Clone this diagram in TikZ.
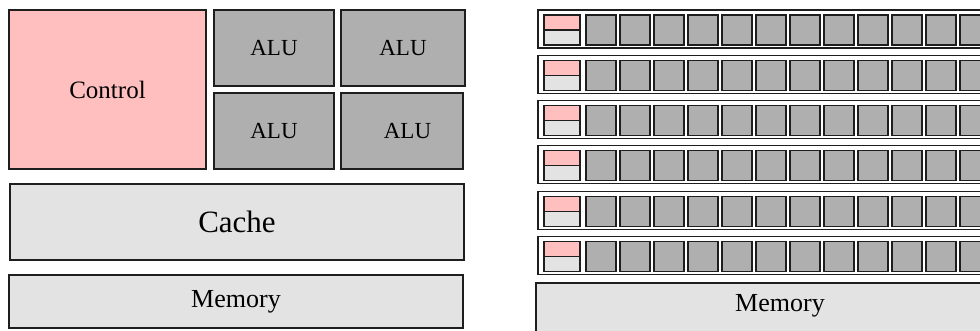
\documentclass[tikz,border=0pt]{standalone}
\usepackage{fontspec}
\setmainfont{Liberation Serif}
\definecolor{ctlpink}{HTML}{FFBFBF}
\definecolor{alugray}{HTML}{AFAFAF}
\definecolor{memgray}{HTML}{E3E3E3}
\definecolor{edge}{HTML}{1E1E1E}
\tikzset{
  box/.style={draw=edge, line width=1.2pt, inner sep=0pt, outer sep=0pt},
  ctlbox/.style={box, fill=ctlpink},
  alubox/.style={box, fill=alugray},
  membox/.style={box, fill=memgray},
  rowbox/.style={box, fill=white},
}
\newcommand{\fs}[1]{\fontsize{#1}{#1}\selectfont}
\begin{document}
\begin{tikzpicture}[x=1pt,y=-1pt]
\useasboundingbox (0,0) rectangle (980,331);
\clip (0,0) rectangle (980,331);
% CPU side
\node[ctlbox, minimum width=197, minimum height=159, font=\fs{25}] (ctl) at (107.5,89.5) {Control};
\node[alubox, minimum width=120, minimum height=76, font=\fs{23}] (alua) at (274,48) {ALU};
\node[alubox, minimum width=124, minimum height=76, font=\fs{23}] (alub) at (403,48) {ALU};
\node[alubox, minimum width=120, minimum height=76, font=\fs{23}] (aluc) at (274,131) {ALU};
\node[alubox, minimum width=122, minimum height=76, font=\fs{23}] (alud) at (402,131) {};
\node[font=\fs{23}] (aludtext) at (407.5,131) {ALU};
\node[membox, minimum width=454, minimum height=76, font=\fs{31}] (cache) at (237,222) {Cache};
\node[membox, minimum width=454, minimum height=53, font=\fs{26}] (cmem) at (236,301.5) {Memory};
% GPU side
\foreach \i in {0,...,5}{
  \pgfmathsetmacro{\top}{10+45.3*\i}
  \node[rowbox, minimum width=470, minimum height=38, anchor=north west] (row\i) at (538,\top) {};
  \node[ctlbox, minimum width=36, minimum height=15, anchor=north west] (gctl\i) at (544,\top+5) {};
  \node[membox, minimum width=36, minimum height=15, anchor=north west] (gcache\i) at (544,\top+20) {};
  \foreach \k in {0,...,12}{
    \node[alubox, minimum width=30, minimum height=30, anchor=north west] (galu\i-\k) at (586+34*\k,\top+5) {};
  }
}
\node[membox, minimum width=488, minimum height=60, anchor=north west] (gmem) at (536,283) {};
\node[font=\fs{26}] (gmemtext) at (780,306) {Memory};
\end{tikzpicture}
\end{document}
